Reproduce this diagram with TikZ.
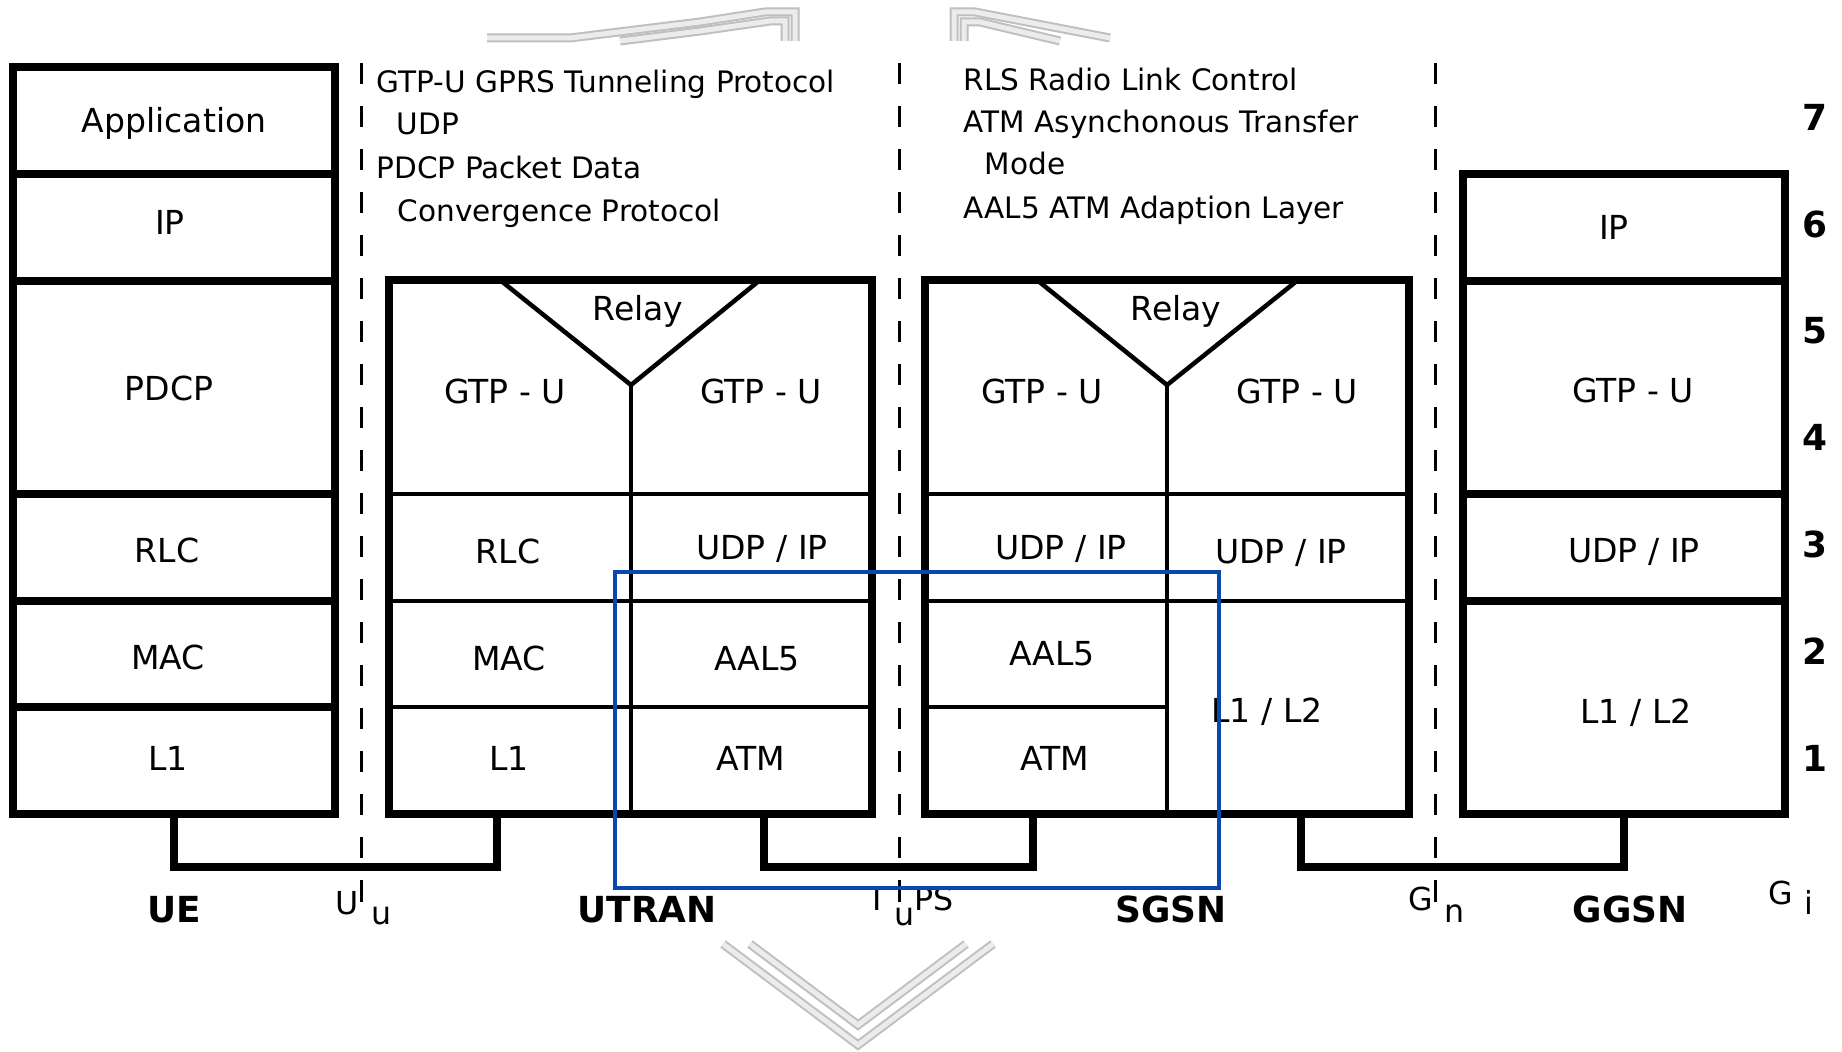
\documentclass[tikz,border=0pt]{standalone}
\usepackage{fontspec}
\setmainfont{DejaVu Sans}
\usetikzlibrary{positioning}
\definecolor{selblue}{RGB}{8,72,172}

\begin{document}
\begin{tikzpicture}[x=0.01cm,y=-0.01cm,
    frame/.style={line width=0.075cm},
    sub/.style={line width=0.045cm},
    link/.style={line width=0.075cm},
    iflim/.style={line width=0.03cm,dash pattern=on 0.21cm off 0.22cm},
    layer/.style={font=\fontsize{9.4}{11}\selectfont,inner sep=0pt,text height=0.24cm,text depth=0pt},
    note/.style={font=\fontsize{8.4}{10}\selectfont,anchor=west,inner sep=0pt,text height=0.21cm,text depth=0pt},
    stackname/.style={font=\bfseries\fontsize{10.2}{12}\selectfont,inner sep=0pt,text height=0.26cm,text depth=0pt},
    iface/.style={font=\fontsize{9}{11}\selectfont,anchor=base west,inner sep=0pt},
    ghost/.style={draw=gray!50,double=gray!15,double distance=0.05cm,line width=0.02cm}]
  \useasboundingbox (0,0) rectangle (1842,1052);

  % faded marks
  \draw[ghost] (487,38) -- (570,38) -- (700,22) -- (765,12) -- (795,12) -- (795,41);
  \draw[ghost] (620,41) -- (700,31) -- (770,21) -- (785,21) -- (785,41);
  \draw[ghost] (954,41) -- (954,12) -- (975,12) -- (1110,38);
  \draw[ghost] (964,41) -- (964,22) -- (980,22) -- (1060,41);
  \draw[ghost] (723,944) -- (858,1045) -- (993,944);
  \draw[ghost] (750,944) -- (858,1025) -- (966,944);

  % interface boundaries
  \foreach \x in {361,899,1435}
    \draw[iflim] (\x,63) -- (\x,905);

  % UE
  \draw[frame] (13,67) rectangle (335,814);
  \foreach \y in {174,281,494,601,707}
    \draw[frame] (13,\y) -- (335,\y);

  % UTRAN
  \draw[frame] (389,280) rectangle (872,814);
  \foreach \y in {494,601,707}
    \draw[sub] (389,\y) -- (872,\y);
  \draw[sub] (500,280) -- (631,385) -- (760,280);
  \draw[sub] (631,385) -- (631,814);

  % SGSN
  \draw[frame] (925,280) rectangle (1409,814);
  \foreach \y in {494,601}
    \draw[sub] (925,\y) -- (1409,\y);
  \draw[sub] (925,707) -- (1167,707);
  \draw[sub] (1037,280) -- (1167,385) -- (1298,280);
  \draw[sub] (1167,385) -- (1167,814);

  % GGSN
  \draw[frame] (1463,174) rectangle (1785,814);
  \foreach \y in {281,494,601}
    \draw[frame] (1463,\y) -- (1785,\y);

  % links between stacks
  \coordinate (ue-port) at (174,814);
  \coordinate (utran-uu) at (497,814);
  \coordinate (utran-iu) at (764,814);
  \coordinate (sgsn-iu) at (1033,814);
  \coordinate (sgsn-gn) at (1301,814);
  \coordinate (ggsn-gn) at (1624,814);
  \draw[link] (ue-port) -- ++(0,53) -| (utran-uu);
  \draw[link] (utran-iu) -- ++(0,53) -| (sgsn-iu);
  \draw[link] (sgsn-gn) -- ++(0,53) -| (ggsn-gn);

  \node[layer] (ue-app) at (174,121) {Application};
  \node[layer] (ue-ip) at (170,222) {IP};
  \node[layer] (ue-pdcp) at (169,388) {PDCP};
  \node[layer] (ue-rlc) at (167,550) {RLC};
  \node[layer] (ue-mac) at (168,657) {MAC};
  \node[layer] (ue-l1) at (168,758) {L1};

  \node[layer] (utran-relay) at (638,308) {Relay};
  \node[layer] (utran-gtp1) at (505,391) {GTP - U};
  \node[layer] (utran-gtp2) at (761,391) {GTP - U};
  \node[layer] (utran-rlc) at (508,551) {RLC};
  \node[layer] (utran-udp) at (762,547) {UDP / IP};
  \node[layer] (utran-mac) at (509,658) {MAC};
  \node[layer] (utran-aal5) at (757,658) {AAL5};
  \node[layer] (utran-l1) at (509,758) {L1};
  \node[layer] (utran-atm) at (751,758) {ATM};

  \node[layer] (sgsn-relay) at (1176,308) {Relay};
  \node[layer] (sgsn-gtp1) at (1042,391) {GTP - U};
  \node[layer] (sgsn-gtp2) at (1297,391) {GTP - U};
  \node[layer] (sgsn-udp1) at (1061,547) {UDP / IP};
  \node[layer] (sgsn-udp2) at (1281,551) {UDP / IP};
  \node[layer] (sgsn-aal5) at (1052,653) {AAL5};
  \node[layer] (sgsn-atm) at (1055,758) {ATM};
  \node[layer] (sgsn-l1l2) at (1267,710) {L1 / L2};

  \node[layer] (ggsn-ip) at (1614,227) {IP};
  \node[layer] (ggsn-gtp) at (1633,390) {GTP - U};
  \node[layer] (ggsn-udp) at (1634,550) {UDP / IP};
  \node[layer] (ggsn-l1l2) at (1636,711) {L1 / L2};

  % layer numbers
  \foreach \n in {1,...,7}
    \node[stackname] (lvl-\n) at (1815,{758-(\n-1)*106.8}) {\n};

  \node[stackname] (ue-name) at (174,909) {UE};
  \node[stackname] (utran-name) at (647,909) {UTRAN};
  \node[stackname] (sgsn-name) at (1171,909) {SGSN};
  \node[stackname] (ggsn-name) at (1630,909) {GGSN};

  \node[iface] (uu) at (335,914) {U\kern0.13cm\raisebox{-0.1cm}{u}};
  \node[iface] (iups) at (872,910) {I\kern0.12cm\raisebox{-0.15cm}{u}PS};
  \node[iface] (gn) at (1408,910) {G\kern0.11cm\raisebox{-0.12cm}{n}};
  \node[iface] (gi) at (1768,904) {G\kern0.11cm\raisebox{-0.1cm}{i}};

  % abbreviations
  \node[note] (n-gtp) at (376,82) {GTP-U GPRS Tunneling Protocol};
  \node[note] (n-udp) at (396,124) {UDP};
  \node[note] (n-pdcp) at (376,168) {PDCP Packet Data};
  \node[note] (n-conv) at (397,211) {Convergence Protocol};
  \node[note] (n-rls) at (963,80) {RLS Radio Link Control};
  \node[note] (n-atm) at (963,122) {ATM Asynchonous Transfer};
  \node[note] (n-mode) at (984,164) {Mode};
  \node[note] (n-aal5) at (963,208) {AAL5 ATM Adaption Layer};

  \draw[selblue,line width=0.035cm] (615,572) rectangle (1219,888);
\end{tikzpicture}
\end{document}
